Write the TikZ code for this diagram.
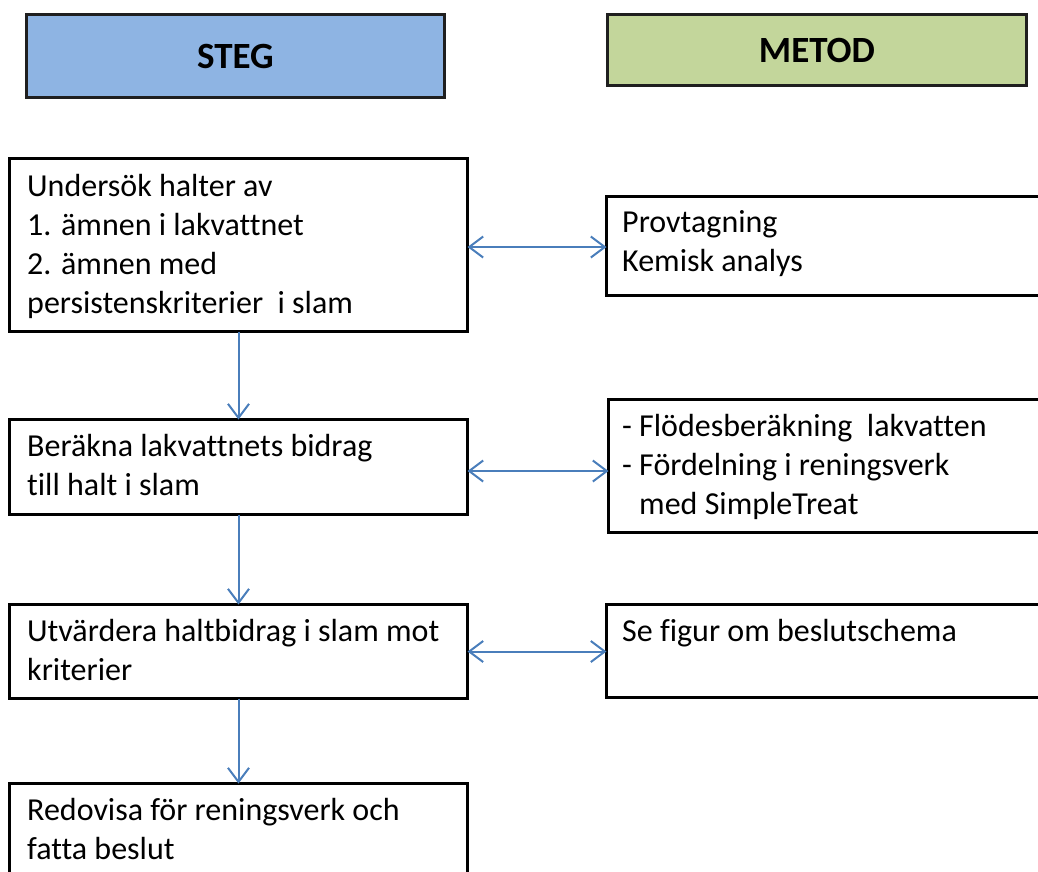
\documentclass[tikz,border=0pt]{standalone}
\usepackage{fontspec}
\setmainfont[Ligatures=CommonOff]{Carlito}
\usetikzlibrary{arrows.meta}
\definecolor{hblue}{HTML}{8EB4E3}
\definecolor{hgreen}{HTML}{C3D69B}
\definecolor{arr}{HTML}{4A7EBB}
\begin{document}
\begin{tikzpicture}[x=1pt,y=-1pt,
  box/.style={draw=black, line width=3pt, anchor=north west, inner sep=0pt, outer sep=0pt},
  head/.style={draw=black!88, line width=2.5pt, inner sep=0pt, outer sep=0pt, font=\fontsize{37}{44}\selectfont\bfseries},
  txt/.style={anchor=base west, inner sep=0pt, align=left, font=\fontsize{32}{39}\selectfont},
  tip/.tip={Straight Barb[length=14pt,width=21pt,line width=2pt]},
  link/.style={draw=arr, line width=2pt, -tip},
  dlink/.style={draw=arr, line width=2pt, tip-tip}]
\useasboundingbox (0,0) rectangle (1038,871);
\clip (0,0) rectangle (1038,871);
% headers
\node[head, fill=hblue, minimum width=418pt, minimum height=83pt] (steg) at (235.5,56) {STEG};
\node[head, fill=hgreen, minimum width=419pt, minimum height=71pt] (metod) at (817,50) {METOD};
% step boxes
\node[box, minimum width=458pt, minimum height=173pt] (b1) at (9.5,158.5) {};
\node[box, minimum width=458pt, minimum height=95pt] (b2) at (9.5,419.5) {};
\node[box, minimum width=458pt, minimum height=94pt] (b3) at (9.5,604.5) {};
\node[box, minimum width=458pt, minimum height=120pt] (b4) at (9.5,783.5) {};
% method boxes (extend past the right edge)
\node[box, minimum width=460pt, minimum height=99pt] (m1) at (606.5,196.5) {};
\node[box, minimum width=460pt, minimum height=133pt] (m2) at (608.5,399.5) {};
\node[box, minimum width=460pt, minimum height=93pt] (m3) at (606.5,604.5) {};
% texts (anchor = baseline of the last line)
\node[txt] (t1) at (27,313) {Undersök halter av\\1. ämnen i lakvattnet\\2. ämnen med\\persistenskriterier\ \ i slam};
\node[txt] (t2) at (27,495) {Beräkna lakvattnets bidrag\\till halt i slam};
\node[txt] (t3) at (27,680) {Utvärdera haltbidrag i slam mot\\kriterier};
\node[txt] (t4) at (27,859) {Redovisa för reningsverk och\\fatta beslut};
\node[txt] (u1) at (622,271) {Provtagning\\Kemisk analys};
\node[txt] (u2) at (622,514) {- Flödesberäkning\ \ lakvatten\\- Fördelning i reningsverk\\\hphantom{- }med SimpleTreat};
\node[txt] (u3) at (622,641) {Se figur om beslutschema};
% connectors
\draw[link] (b1.south) -- (b2.north);
\draw[link] (b2.south) -- (b3.north);
\draw[link] (b3.south) -- (b4.north);
\draw[dlink] ([yshift=-2pt]b1.east) -- ([yshift=-2pt]b1.east -| m1.west);
\draw[dlink] ([yshift=-4pt]b2.east) -- ([yshift=-4pt]b2.east -| m2.west);
\draw[dlink] (b3.east) -- (b3.east -| m3.west);
\end{tikzpicture}
\end{document}
